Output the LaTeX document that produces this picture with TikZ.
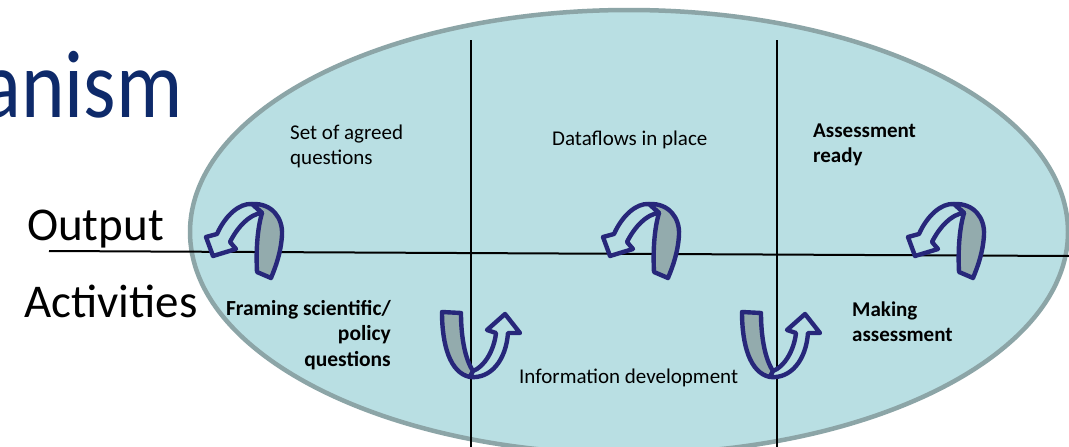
\documentclass[tikz,border=0pt]{standalone}
\usepackage{fontspec}
\setmainfont{Carlito}
\definecolor{ellfill}{HTML}{B9DFE3}
\definecolor{elldraw}{HTML}{8CA5A7}
\definecolor{navy}{HTML}{27277A}
\definecolor{bandgray}{HTML}{93ABAD}
\definecolor{titleblue}{HTML}{0E2A6A}
\tikzset{
  lbl/.style={inner sep=0pt, font=\fontsize{21}{25}\selectfont},
  blbl/.style={inner sep=0pt, font=\fontsize{21}{25}\selectfont\bfseries},
  big/.style={inner sep=0pt, font=\fontsize{47}{56}\selectfont},
  divider/.style={line width=2pt, black},
  arrowline/.style={draw=navy, line width=4.4pt, line join=round},
  toparrow/.pic={
    \filldraw[arrowline, fill=bandgray]
      (9,-36) .. controls (29,-37) and (40,-22) .. (39,-5)
      .. controls (38,12) and (33,26) .. (28,38) -- (14,32)
      .. controls (13,12) and (14,-10) .. (19,-27) -- cycle;
    \filldraw[arrowline, fill=ellfill]
      (19,-27) .. controls (6,-26) and (-6,-12) .. (-13,2)
      -- (-7,9) -- (-30,16) -- (-37,-3) -- (-26,-6)
      .. controls (-18,-24) and (-4,-37) .. (9,-36) -- cycle;
  },
  botarrow/.pic={
    \filldraw[arrowline, fill=bandgray]
      (-33,-33) -- (-14,-32) .. controls (-14,-8) and (-10,14) .. (-2,26)
      -- (-5,32) .. controls (-25,28) and (-33,0) .. cycle;
    \filldraw[arrowline, fill=ellfill]
      (-5,32) .. controls (16,34) and (31,15) .. (33,-12)
      -- (45,-12) -- (30,-31) -- (12,-15) -- (21,-12)
      .. controls (19,6) and (9,22) .. (-2,26) -- cycle;
  }
}
\begin{document}
\begin{tikzpicture}[x=1pt,y=-1pt]
\useasboundingbox (0,0) rectangle (1069,447);
\clip (0,0) rectangle (1069,447);
\fill[white] (0,0) rectangle (1069,447);
\draw[draw=elldraw, fill=ellfill, line width=4.5pt] (629,232) ellipse [x radius=439pt, y radius=222pt];
% dividers
\draw[divider] (49,251) -- (1069,256);
\draw[divider] (471,40) -- (471,447);
\draw[divider] (777,40) -- (777,447);
% title and row labels
\node[anchor=base east, inner sep=0pt, text=titleblue, font=\fontsize{83}{90}\selectfont] (title) at (183,117) {\scalebox{1}[1.16]{anism}};
\node[big, anchor=base west] (output) at (27,240) {Output};
\node[big, anchor=base west] (activities) at (24,317) {Activities};
% cell labels
\node[lbl, anchor=north west, align=left] (agreed) at (290,125) {Set of agreed\\questions};
\node[lbl, anchor=base west] (dataflows) at (552,145) {Dataflows in place};
\node[blbl, anchor=north west, align=left] (ready) at (813,124) {Assessment\\ready};
\node[blbl, anchor=north east, align=right, font=\fontsize{21.5}{25.5}\selectfont\bfseries] (framing) at (391,300) {Framing scientific/\\policy\\questions};
\node[lbl, anchor=base west] (infodev) at (519,383) {Information development};
\node[blbl, anchor=north west, align=left] (making) at (852,302) {Making\\assessment};
% cycle arrows
\pic at (243,240) {toparrow};
\pic at (640,240) {toparrow};
\pic at (945,240) {toparrow};
\pic at (475,345) {botarrow};
\pic at (775,345) {botarrow};
\end{tikzpicture}
\end{document}
